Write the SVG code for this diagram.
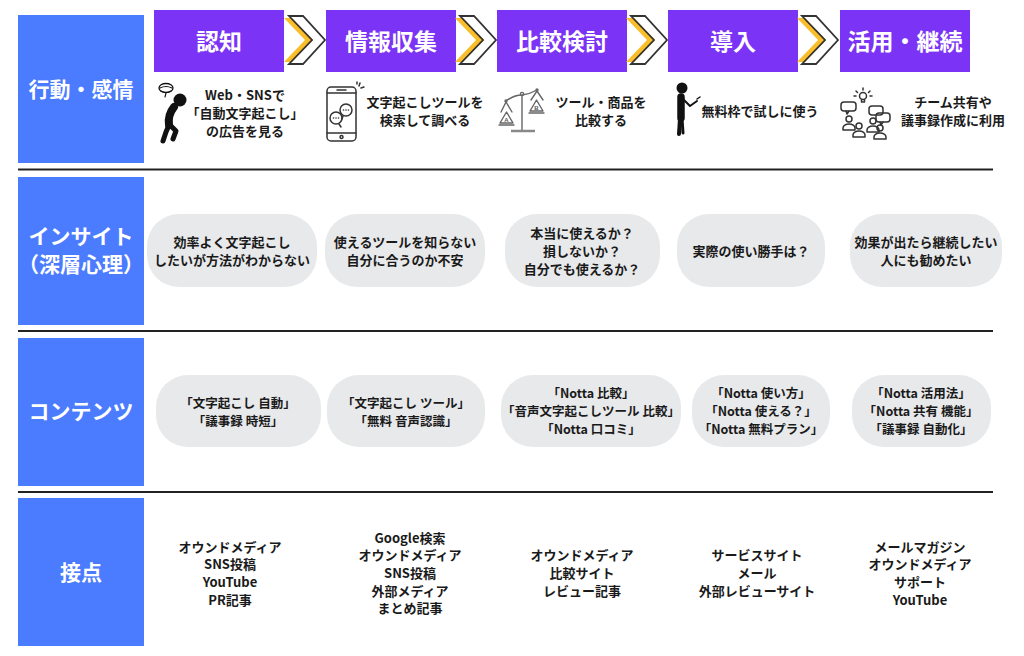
<svg xmlns="http://www.w3.org/2000/svg" width="1024" height="656" viewBox="0 0 1024 656">
<defs>
<style>
.lab{fill:#4B7BFF}
.labt{fill:#fff;font-family:"Noto Sans CJK JP","Noto Sans",sans-serif;font-weight:700;font-size:21px;text-anchor:middle}
.hdr{fill:#7B33F5}
.hdrt{fill:#fff;font-family:"Noto Sans CJK JP","Noto Sans",sans-serif;font-weight:700;font-size:23px;text-anchor:middle}
.t1{fill:#1a1a1a;font-family:"Noto Sans CJK JP","Noto Sans",sans-serif;font-weight:700;font-size:13px;text-anchor:middle}
.t2{fill:#1a1a1a;font-family:"Noto Sans CJK JP","Noto Sans",sans-serif;font-weight:700;font-size:13px;text-anchor:middle}
.t3{fill:#1a1a1a;font-family:"Noto Sans CJK JP","Noto Sans",sans-serif;font-weight:700;font-size:12.5px;text-anchor:middle}
.t4{fill:#1a1a1a;font-family:"Noto Sans CJK JP","Noto Sans",sans-serif;font-weight:700;font-size:13px;text-anchor:middle}
.pill{fill:#E8E9EB}
.sep{stroke:#222;stroke-width:2}
.ln{fill:none;stroke:#333;stroke-width:1.5;stroke-linecap:round;stroke-linejoin:round}
.lg{fill:none;stroke:#666;stroke-width:1.4;stroke-linecap:round;stroke-linejoin:round}
.blk{fill:none;stroke:#111;stroke-linecap:round;stroke-linejoin:round}
</style>
<g id="chev">
<path d="M-5,2 H3 L24,24 L3,46 H-5 L16,24 Z" fill="#F9BE2A"/>
<path d="M0,0 H14 L36,24 L14,48 H0 L23,24 Z" fill="none" stroke="#333" stroke-width="1.8" stroke-linejoin="miter"/>
</g>
</defs>
<rect width="1024" height="656" fill="#fff"/>

<!-- row labels -->
<g id="label-action"><rect class="lab" x="18" y="15" width="126" height="148"/><text class="labt" x="81" y="97">行動・感情</text></g>
<g id="label-insight"><rect class="lab" x="18" y="177" width="126" height="148"/><text class="labt" x="81" y="244">インサイト</text><text class="labt" x="81" y="272">（深層心理）</text></g>
<g id="label-content"><rect class="lab" x="18" y="338" width="126" height="148"/><text class="labt" x="81" y="419">コンテンツ</text></g>
<g id="label-touch"><rect class="lab" x="18" y="498" width="126" height="148"/><text class="labt" x="81" y="580">接点</text></g>

<!-- separators -->
<g id="separators">
<line class="sep" x1="18" y1="169.5" x2="993" y2="169.5"/>
<line class="sep" x1="18" y1="331" x2="993" y2="331"/>
<line class="sep" x1="18" y1="492" x2="993" y2="492"/>
</g>

<!-- stage headers -->
<g id="stage1"><rect class="hdr" x="154" y="10" width="130" height="62"/><text class="hdrt" x="219" y="50">認知</text></g>
<g id="stage2"><rect class="hdr" x="326" y="10" width="130" height="62"/><text class="hdrt" x="391" y="50">情報収集</text></g>
<g id="stage3"><rect class="hdr" x="497" y="10" width="130" height="62"/><text class="hdrt" x="562" y="50">比較検討</text></g>
<g id="stage4"><rect class="hdr" x="668" y="10" width="130" height="62"/><text class="hdrt" x="733" y="50">導入</text></g>
<g id="stage5"><rect class="hdr" x="840" y="10" width="130" height="62"/><text class="hdrt" x="905" y="50">活用・継続</text></g>

<g id="connectors">
<use href="#chev" x="289" y="16"/>
<use href="#chev" x="460" y="16"/>
<use href="#chev" x="631" y="16"/>
<use href="#chev" x="802" y="16"/>
</g>

<!-- row 1: actions -->
<g id="action1">
<g class="blk">
<circle cx="180" cy="100" r="6.5" fill="#111" stroke="none"/>
<path d="M174,107 C170,112 168,118 169,125" stroke-width="8"/>
<path d="M173,109 L168,121" stroke-width="4"/>
<path d="M169,125 L166,132 L163,141" stroke-width="5"/>
<path d="M170,125 L176,131 L173,139" stroke-width="5"/>
<ellipse cx="166" cy="88" rx="7" ry="4.5" stroke-width="1.3"/>
<path d="M160,88 q6,-3 12,0 M161,91 q5,3 10,0 M166,93 l-1,4" stroke-width="1.1"/>
</g>
<text class="t1" x="245" y="100">Web・SNSで</text>
<text class="t1" x="245" y="118">「自動文字起こし」</text>
<text class="t1" x="245" y="136">の広告を見る</text>
</g>
<g id="action2">
<rect class="ln" x="327" y="87" width="29" height="54" rx="4"/>
<line class="ln" x1="327" y1="93" x2="356" y2="93"/>
<line class="ln" x1="327" y1="133" x2="356" y2="133"/>
<line class="ln" x1="337" y1="90" x2="346" y2="90"/>
<circle class="ln" cx="341.5" cy="137" r="1.5"/>
<circle class="ln" cx="346" cy="110" r="6"/>
<circle class="ln" cx="336" cy="118" r="6"/>
<path class="ln" d="M343,116 l-1,3 M339,124 l2,3" stroke-width="1.1"/>
<circle cx="343.5" cy="110" r="0.8" fill="#333"/><circle cx="346" cy="110" r="0.8" fill="#333"/><circle cx="348.5" cy="110" r="0.8" fill="#333"/>
<circle cx="333.5" cy="118" r="0.8" fill="#333"/><circle cx="336" cy="118" r="0.8" fill="#333"/><circle cx="338.5" cy="118" r="0.8" fill="#333"/>
<path class="ln" d="M359,86 l1,-3 M361,88 l3,-1 M357,84 l0,-2" stroke-width="1"/>
<text class="t1" x="425" y="107">文字起こしツールを</text>
<text class="t1" x="425" y="125">検索して調べる</text>
</g>
<g id="action3">
<line class="lg" x1="522" y1="96" x2="522" y2="130"/>
<line x1="511" y1="131" x2="535" y2="131" stroke="#888" stroke-width="2.5"/>
<path class="lg" d="M506,101 Q514,95 522,95 Q530,94 537,90"/>
<circle class="lg" cx="522" cy="94" r="1.6"/>
<circle class="lg" cx="506" cy="101" r="1"/>
<circle class="lg" cx="537" cy="90" r="1"/>
<path class="lg" d="M506,102 L501,112 M506,102 L512,112"/>
<path class="lg" d="M537,91 L531,100 M537,91 L543,100"/>
<path class="lg" d="M500,123 l6.5,-11 l6.5,11 z M530,111 l6.5,-11 l6.5,11 z"/>
<line class="lg" x1="499" y1="125" x2="514" y2="125"/>
<line class="lg" x1="529" y1="113" x2="544" y2="113"/>
<text x="506.5" y="121.5" font-family="Liberation Sans,sans-serif" font-size="6" font-weight="700" fill="#555" text-anchor="middle">A</text>
<text x="536.5" y="109.5" font-family="Liberation Sans,sans-serif" font-size="6" font-weight="700" fill="#555" text-anchor="middle">B</text>
<text class="t1" x="601" y="107">ツール・商品を</text>
<text class="t1" x="601" y="125">比較する</text>
</g>
<g id="action4">
<g class="blk">
<circle cx="682" cy="88" r="5.5" fill="#111" stroke="none"/>
<path d="M681,97 L681,118" stroke-width="7.5"/>
<path d="M680,118 L679,134" stroke-width="4"/>
<path d="M682,118 L683,133" stroke-width="3"/>
<path d="M683,99 L690,106 L697,101" stroke-width="2"/>
<path d="M697,99 l3,-2" stroke-width="1.5"/>
</g>
<text class="t1" x="760" y="116">無料枠で試しに使う</text>
</g>
<g id="action5">
<g class="ln" stroke-width="1.3">
<circle cx="863" cy="96" r="3.5"/>
<path d="M861.5,100 v2 h3 v-2"/>
<path d="M863,88 v2 M856,91 l1.5,1.5 M870,91 l-1.5,1.5 M854,96 h2 M870,96 h2"/>
<rect x="841" y="102" width="15" height="9" rx="3"/>
<path d="M846,111 l1,3 l2,-3"/>
<rect x="869" y="106" width="14" height="9" rx="3"/>
<rect x="876" y="113" width="14" height="9" rx="3"/>
<path d="M880,122 l1,3 l2,-3"/>
<circle cx="849" cy="119" r="3"/><path d="M843,130 v-2 a6,4 0 0 1 12,0 v2 z"/>
<circle cx="859" cy="126" r="3"/><path d="M853,137 v-2 a6,4 0 0 1 12,0 v2 z"/>
<circle cx="873" cy="121" r="3"/><path d="M867,132 v-2 a6,4 0 0 1 12,0 v2 z"/>
<circle cx="880" cy="128" r="3"/><path d="M874,139 v-2 a6,4 0 0 1 12,0 v2 z"/>
</g>
<text class="t1" x="953" y="107">チーム共有や</text>
<text class="t1" x="953" y="125">議事録作成に利用</text>
</g>

<!-- row 2: insights -->
<g id="insight1"><rect class="pill" x="147" y="214" width="170" height="73" rx="32"/>
<text class="t2" x="232" y="247">効率よく文字起こし</text><text class="t2" x="232" y="265">したいが方法がわからない</text></g>
<g id="insight2"><rect class="pill" x="325" y="214" width="160" height="73" rx="32"/>
<text class="t2" x="405" y="247">使えるツールを知らない</text><text class="t2" x="405" y="265">自分に合うのか不安</text></g>
<g id="insight3"><rect class="pill" x="505" y="214" width="155" height="73" rx="32"/>
<text class="t2" x="582" y="238">本当に使えるか？</text><text class="t2" x="582" y="256">損しないか？</text><text class="t2" x="582" y="274">自分でも使えるか？</text></g>
<g id="insight4"><rect class="pill" x="677" y="214" width="148" height="73" rx="32"/>
<text class="t2" x="751" y="256">実際の使い勝手は？</text></g>
<g id="insight5"><rect class="pill" x="850" y="214" width="152" height="73" rx="32"/>
<text class="t2" x="926" y="247">効果が出たら継続したい</text><text class="t2" x="926" y="265">人にも勧めたい</text></g>

<!-- row 3: contents -->
<g id="content1"><rect class="pill" x="156" y="375" width="165" height="72" rx="32"/>
<text class="t3" x="238" y="408">「文字起こし 自動」</text><text class="t3" x="238" y="426">「議事録 時短」</text></g>
<g id="content2"><rect class="pill" x="327" y="375" width="158" height="72" rx="32"/>
<text class="t3" x="406" y="408">「文字起こし ツール」</text><text class="t3" x="406" y="426">「無料 音声認識」</text></g>
<g id="content3"><rect class="pill" x="501" y="375" width="180" height="72" rx="32"/>
<text class="t3" x="591" y="398">「Notta 比較」</text><text class="t3" x="591" y="416">「音声文字起こしツール 比較」</text><text class="t3" x="591" y="434">「Notta 口コミ」</text></g>
<g id="content4"><rect class="pill" x="692" y="375" width="138" height="72" rx="32"/>
<text class="t3" x="761" y="398">「Notta 使い方」</text><text class="t3" x="761" y="416">「Notta 使える？」</text><text class="t3" x="761" y="434">「Notta 無料プラン」</text></g>
<g id="content5"><rect class="pill" x="852" y="375" width="139" height="72" rx="32"/>
<text class="t3" x="921" y="398">「Notta 活用法」</text><text class="t3" x="921" y="416">「Notta 共有 機能」</text><text class="t3" x="921" y="434">「議事録 自動化」</text></g>

<!-- row 4: touchpoints -->
<g id="touch1">
<text class="t4" x="230" y="552">オウンドメディア</text><text class="t4" x="230" y="569">SNS投稿</text><text class="t4" x="230" y="587">YouTube</text><text class="t4" x="230" y="605">PR記事</text></g>
<g id="touch2">
<text class="t4" x="410" y="543">Google検索</text><text class="t4" x="410" y="560">オウンドメディア</text><text class="t4" x="410" y="578">SNS投稿</text><text class="t4" x="410" y="596">外部メディア</text><text class="t4" x="410" y="613">まとめ記事</text></g>
<g id="touch3">
<text class="t4" x="582" y="560">オウンドメディア</text><text class="t4" x="582" y="578">比較サイト</text><text class="t4" x="582" y="596">レビュー記事</text></g>
<g id="touch4">
<text class="t4" x="757" y="560">サービスサイト</text><text class="t4" x="757" y="578">メール</text><text class="t4" x="757" y="596">外部レビューサイト</text></g>
<g id="touch5">
<text class="t4" x="920" y="552">メールマガジン</text><text class="t4" x="920" y="569">オウンドメディア</text><text class="t4" x="920" y="587">サポート</text><text class="t4" x="920" y="605">YouTube</text></g>
</svg>
